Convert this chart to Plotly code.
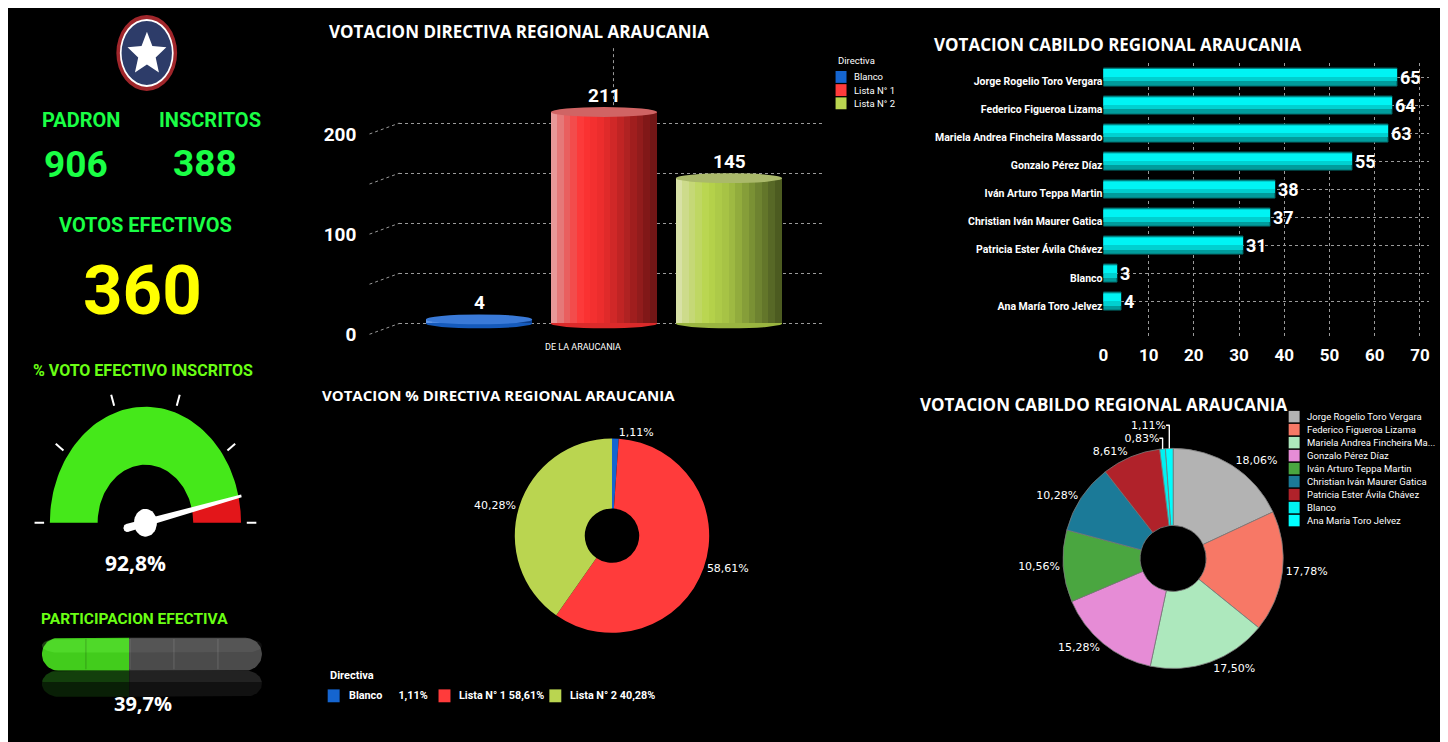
import numpy as np
import plotly.graph_objects as go

# page offset of the figure inside the html body (default body margin)
OFF = 8
W, H = 1440, 734

# ---------------- data ----------------
padron = 906
inscritos = 388
votos_efectivos = 360
voto_efectivo_inscritos_pct = 92.8
participacion_efectiva_pct = 39.7
gauge_ticks = [0, 20, 40, 60, 80, 100]
progress_dividers = [20, 40, 60, 80]

directiva_labels = ["Blanco", "Lista N° 1", "Lista N° 2"]
directiva_values = [4, 211, 145]
directiva_category = ["DE LA ARAUCANIA"]
directiva_yticks = [0, 100, 200]
directiva_minor = [50, 150]

cabildo_names = [
    "Jorge Rogelio Toro Vergara",
    "Federico Figueroa Lizama",
    "Mariela Andrea Fincheira Massardo",
    "Gonzalo Pérez Díaz",
    "Iván Arturo Teppa Martin",
    "Christian Iván Maurer Gatica",
    "Patricia Ester Ávila Chávez",
    "Blanco",
    "Ana María Toro Jelvez",
]
cabildo_values = [65, 64, 63, 55, 38, 37, 31, 3, 4]
cabildo_legend = [
    "Jorge Rogelio Toro Vergara",
    "Federico Figueroa Lizama",
    "Mariela Andrea Fincheira Ma...",
    "Gonzalo Pérez Díaz",
    "Iván Arturo Teppa Martin",
    "Christian Iván Maurer Gatica",
    "Patricia Ester Ávila Chávez",
    "Blanco",
    "Ana María Toro Jelvez",
]
cabildo_xticks = [0, 10, 20, 30, 40, 50, 60, 70]

# ---------------- styles ----------------
NARROW = "Roboto, Liberation Sans, sans-serif"
TITLEF = "Open Sans, sans-serif"
WIDEF = "Open Sans, sans-serif"
PIEF = "DejaVu Sans, sans-serif"
GREEN_TXT = "#1aff45"
LIME_TXT = "#6aff14"
YELLOW = "#ffff00"
GAUGE_GREEN = "#45e81a"
GAUGE_RED = "#e3161a"
PROG_GREEN = "#42cc1c"
PROG_GREY = "#4b4b4b"
GRID = "#9a9a9a"
DIR_COLORS = ["#1565d0", "#ff3b3b", "#bad550"]
DIR_STOPS = [
    [(0, "#6a9ae6"), (0.3, "#1a6ad8"), (1, "#0c3c86")],
    [(0, "#eaa8a8"), (0.12, "#e46a6a"), (0.3, "#ff3434"), (0.5, "#e82c2c"), (0.75, "#a82020"), (1, "#6a1414")],
    [(0, "#dde4b4"), (0.12, "#c8d880"), (0.3, "#b8d64c"), (0.5, "#a4c044"), (0.75, "#748a32"), (1, "#46541e")],
]
DIR_TOPS = ["#3a7ad8", "#d06464", "#aab96a"]
CAB_COLORS = ["#b3b3b3", "#f77866", "#ade8bd", "#e68cd6", "#4aa640", "#1b7a98", "#b0222a", "#00f2f2", "#00ffff"]


def fx(px):
    return (px - OFF) / W


def fy(py):
    return 1 - (py - OFF) / H


def hex2rgb(h):
    h = h.lstrip("#")
    return tuple(int(h[i:i + 2], 16) for i in (0, 2, 4))


def interp(stops, t):
    for (t0, c0), (t1, c1) in zip(stops[:-1], stops[1:]):
        if t <= t1:
            f = (t - t0) / (t1 - t0) if t1 > t0 else 0
            a, b = hex2rgb(c0), hex2rgb(c1)
            return "rgb(%d,%d,%d)" % tuple(round(a[j] + (b[j] - a[j]) * f) for j in range(3))
    return stops[-1][1]


def comma(v, nd):
    return f"{v:.{nd}f}".replace(".", ",")


fig = go.Figure()
shapes = []
annotations = []


def ann(text, px, py, size, color="white", family=NARROW, bold=True, xanchor="center", yanchor="middle"):
    annotations.append(dict(
        text=f"<b>{text}</b>" if bold else text, x=fx(px), y=fy(py), xref="paper", yref="paper",
        showarrow=False, xanchor=xanchor, yanchor=yanchor,
        font=dict(size=size, color=color, family=family)))


def add_poly(xs, ys, color, xa, ya):
    fig.add_trace(go.Scatter(x=xs, y=ys, mode="lines", fill="toself", fillcolor=color,
                             line=dict(width=0, color=color), xaxis=xa, yaxis=ya,
                             hoverinfo="skip", showlegend=False))


# ---------------- logo ----------------
for rx, ry, col in [(30.5, 38.3, "#a0262b"), (27.0, 34.3, "#ffffff"), (25.3, 32.3, "#2d3c69")]:
    shapes.append(dict(type="circle", xref="paper", yref="paper", x0=fx(142.3 - rx), x1=fx(142.3 + rx),
                       y0=fy(53.3 + ry), y1=fy(53.3 - ry), fillcolor=col, line=dict(width=0)))
pts = []
for k in range(10):
    ang = np.pi / 2 + k * np.pi / 5
    r = 1 if k % 2 == 0 else 0.45
    pts.append((fx(142.5 + 20.5 * r * np.cos(ang)), fy(54.7 - 22.7 * r * np.sin(ang))))
shapes.append(dict(type="path", xref="paper", yref="paper",
                   path="M " + " L ".join(f"{x:.5f},{y:.5f}" for x, y in pts) + " Z",
                   fillcolor="white", line=dict(width=0)))

# ---------------- left KPI texts ----------------
ann("PADRON", 76, 121, 20, GREEN_TXT)
ann("INSCRITOS", 206, 121, 20, GREEN_TXT)
ann(str(padron), 71, 166, 37, GREEN_TXT)
ann(str(inscritos), 201, 165, 37, GREEN_TXT)
ann("VOTOS EFECTIVOS", 141, 227, 20, GREEN_TXT)
ann(str(votos_efectivos), 138, 293, 69, YELLOW)
ann("% VOTO EFECTIVO INSCRITOS", 139, 373, 16, LIME_TXT)
ann(comma(voto_efectivo_inscritos_pct, 1) + "%", 131, 568, 21, "white", WIDEF)
ann("PARTICIPACION EFECTIVA", 130, 624, 15.5, LIME_TXT)
ann(comma(participacion_efectiva_pct, 1) + "%", 139, 709, 20, "white", WIDEF)

# ---------------- gauge (x4/y4) ----------------
def arc_poly(v0, v1, r_in, r_out, n=80):
    t = np.linspace(np.pi * (1 - v0 / 100), np.pi * (1 - v1 / 100), n)
    xs = list(r_out * np.cos(t)) + list(r_in * np.cos(t[::-1]))
    ys = list(r_out * np.sin(t)) + list(r_in * np.sin(t[::-1]))
    return xs + [xs[0]], ys + [ys[0]]


gv = voto_efectivo_inscritos_pct
xs, ys = arc_poly(0, gv, 0.5, 1.0)
add_poly(xs, ys, GAUGE_GREEN, "x4", "y4")
xs, ys = arc_poly(gv, 100, 0.5, 1.0)
add_poly(xs, ys, GAUGE_RED, "x4", "y4")
tx, ty = [], []
for v in gauge_ticks:
    th = np.pi * (1 - v / 100)
    tx += [1.06 * np.cos(th), 1.16 * np.cos(th), None]
    ty += [1.06 * np.sin(th), 1.16 * np.sin(th), None]
fig.add_trace(go.Scatter(x=tx, y=ty, mode="lines", line=dict(color="white", width=2),
                         xaxis="x4", yaxis="y4", hoverinfo="skip", showlegend=False))
th = np.pi * (1 - gv / 100)
d = np.array([np.cos(th), np.sin(th)])
nrm = np.array([-np.sin(th), np.cos(th)])
p = [-0.2 * d + 0.035 * nrm, 1.03 * d + 0.012 * nrm, 1.03 * d - 0.012 * nrm, -0.2 * d - 0.035 * nrm]
add_poly([q[0] for q in p] + [p[0][0]], [q[1] for q in p] + [p[0][1]], "white", "x4", "y4")
tt = np.linspace(0, 2 * np.pi, 40)
add_poly(list(-0.2 * d[0] + 0.035 * np.cos(tt)), list(-0.2 * d[1] + 0.035 * np.sin(tt)), "white", "x4", "y4")
add_poly(list(0.12 * np.cos(tt)), list(0.12 * np.sin(tt)), "white", "x4", "y4")

# ---------------- progress bar (x5/y5) ----------------
Rx = 16.5 / 2.21
pv = participacion_efectiva_pct


def left_round(x0, x1, y0, y1):
    cx = x0 + Rx
    t = np.linspace(np.pi / 2, 3 * np.pi / 2, 30)
    cy, ry = (y0 + y1) / 2, (y1 - y0) / 2
    xs = [x1] + list(cx + Rx * np.cos(t)) + [x1, x1]
    ys = [y1] + list(cy + ry * np.sin(t)) + [y0, y1]
    return xs, ys


def right_round(x0, x1, y0, y1):
    cx = x1 - Rx
    t = np.linspace(-np.pi / 2, np.pi / 2, 30)
    cy, ry = (y0 + y1) / 2, (y1 - y0) / 2
    xs = [x0] + list(cx + Rx * np.cos(t)) + [x0, x0]
    ys = [y0] + list(cy + ry * np.sin(t)) + [y1, y0]
    return xs, ys


# reflection
xs, ys = left_round(0, pv, -0.8, 0)
add_poly(xs, ys, "#133f0c", "x5", "y5")
xs, ys = right_round(pv, 100, -0.8, 0)
add_poly(xs, ys, "#222222", "x5", "y5")
add_poly([-2, 102, 102, -2, -2], [-0.35, -0.35, -0.9, -0.9, -0.35], "rgba(0,0,0,0.5)", "x5", "y5")
# bar
xs, ys = left_round(0, pv, 0, 1)
add_poly(xs, ys, PROG_GREEN, "x5", "y5")
xs, ys = right_round(pv, 100, 0, 1)
add_poly(xs, ys, PROG_GREY, "x5", "y5")
xs, ys = left_round(0, pv, 0.55, 0.97)
add_poly(xs, ys, "rgba(120,255,80,0.25)", "x5", "y5")
xs, ys = right_round(pv, 100, 0.55, 0.97)
add_poly(xs, ys, "rgba(255,255,255,0.06)", "x5", "y5")
for v in progress_dividers:
    col = "rgba(0,0,0,0.18)" if v < pv else "rgba(255,255,255,0.12)"
    fig.add_trace(go.Scatter(x=[v, v], y=[0.04, 0.96], mode="lines", line=dict(color=col, width=1.2),
                             xaxis="x5", yaxis="y5", hoverinfo="skip", showlegend=False))

# ---------------- top middle: directiva cylinders (x/y) ----------------
def dpy(v):  # reference pixel y for a value
    return 326 - 1.01 * v


BW = 0.85
NSTRIP = 16
xpos = list(range(len(directiva_values)))
ey = 5 / 1.01
for i, v in enumerate(directiva_values):
    shapes.append(dict(type="circle", xref="x", yref="y", x0=i - BW / 2, x1=i + BW / 2, y0=-ey, y1=ey,
                       fillcolor=interp(DIR_STOPS[i], 0.55), line=dict(width=0), layer="between"))
for k in range(NSTRIP):
    t = (k + 0.5) / NSTRIP
    fig.add_trace(go.Bar(
        x=xpos, y=directiva_values, width=BW / NSTRIP * 1.05, offset=-BW / 2 + k * BW / NSTRIP,
        marker=dict(color=[interp(DIR_STOPS[i], t) for i in xpos], line=dict(width=0)),
        xaxis="x", yaxis="y", hoverinfo="skip", showlegend=False))
for i, v in enumerate(directiva_values):
    shapes.append(dict(type="circle", xref="x", yref="y", x0=i - BW / 2, x1=i + BW / 2, y0=v - ey, y1=v + ey,
                       fillcolor=DIR_TOPS[i], line=dict(width=0)))
    annotations.append(dict(text=f"<b>{v}</b>", x=i, y=v, xref="x", yref="y", yshift=17, showarrow=False,
                            font=dict(size=19, color="white", family=NARROW)))
# 3D wall connectors
for v in directiva_yticks + directiva_minor:
    shapes.append(dict(type="line", xref="paper", yref="paper", x0=fx(366), x1=fx(396),
                       y0=fy(dpy(v) + 11), y1=fy(dpy(v)), line=dict(color=GRID, width=1, dash="dot"),
                       layer="below"))
shapes.append(dict(type="line", xref="paper", yref="paper", x0=fx(611), x1=fx(611), y0=fy(112), y1=fy(48),
                   line=dict(color=GRID, width=1, dash="dot"), layer="below"))
ann("VOTACION DIRECTIVA REGIONAL ARAUCANIA", 516, 32, 17, "white", TITLEF)
# legend (top)
ann("Directiva", 834, 61, 9.5, "white", NARROW, bold=False, xanchor="left")
for i, lab in enumerate(directiva_labels):
    yc = 77.5 + 13.3 * i
    shapes.append(dict(type="rect", xref="paper", yref="paper", x0=fx(834), x1=fx(845), y0=fy(yc + 6),
                       y1=fy(yc - 6), fillcolor=DIR_COLORS[i], line=dict(width=0)))
    ann(lab, 851, yc, 9.5, "white", NARROW, bold=False, xanchor="left")

# ---------------- middle: directiva donut ----------------
tot = sum(directiva_values)
pcx, pcy, pr = 609.5, 540, 98
fig.add_trace(go.Pie(
    labels=directiva_labels, values=directiva_values, hole=0.28, sort=False, direction="clockwise",
    rotation=0, marker=dict(colors=DIR_COLORS, line=dict(width=0)), textposition="outside",
    texttemplate="%{percent:.2%}", textfont=dict(color="white", size=11, family=PIEF),
    domain=dict(x=[fx(pcx - pr), fx(pcx + pr)], y=[fy(pcy + pr), fy(pcy - pr)]),
    showlegend=False, hoverinfo="label+value+percent"))
ann("VOTACION % DIRECTIVA REGIONAL ARAUCANIA", 495.5, 398, 15, "white", TITLEF)
ann("Directiva", 324, 681, 11, "white", NARROW, xanchor="left")
for i, lab in enumerate(directiva_labels):
    x0 = 324 + 111.3 * i
    shapes.append(dict(type="rect", xref="paper", yref="paper", x0=fx(x0), x1=fx(x0 + 12), y0=fy(708),
                       y1=fy(695), fillcolor=DIR_COLORS[i], line=dict(width=0)))
    pct = comma(directiva_values[i] / tot * 100, 2) + "%"
    gap = "\u00a0" * (6 if len(lab) < 8 else 1)
    ann(lab + gap + pct, x0 + 19, 701.5, 10.8, "white", NARROW, xanchor="left")

# ---------------- top right: cabildo bars (x3/y3) ----------------
layers = [(0.64, -0.32, "#009c9c", True), (0.44, -0.32, "#00d0d0", False), (0.26, -0.30, "#00f4f4", False)]
for wdt, off, col, txt in layers:
    fig.add_trace(go.Bar(
        y=cabildo_names, x=cabildo_values, orientation="h", width=wdt, offset=off,
        marker=dict(color=col, line=dict(width=1 if txt else 0, color="#006e6e")),
        text=cabildo_values if txt else None, textposition="outside" if txt else "none",
        texttemplate="<b>%{x}</b>" if txt else None, constraintext="none", cliponaxis=False,
        textfont=dict(size=18, color="white", family=NARROW),
        xaxis="x3", yaxis="y3", hoverinfo="skip", showlegend=False))
ann("VOTACION CABILDO REGIONAL ARAUCANIA", 1117.5, 45, 17, "white", TITLEF)

# ---------------- bottom right: cabildo donut ----------------
qcx, qcy, qr = 1173, 563, 111
fig.add_trace(go.Pie(
    labels=cabildo_names, values=cabildo_values, hole=0.3, sort=False, direction="clockwise",
    rotation=0, marker=dict(colors=CAB_COLORS, line=dict(width=0.8, color="#7a7a7a")),
    textposition="outside", texttemplate="%{percent:.2%}",
    textfont=dict(color="white", size=11, family=PIEF),
    domain=dict(x=[fx(qcx - qr), fx(qcx + qr)], y=[fy(qcy + qr), fy(qcy - qr)]),
    showlegend=False, hoverinfo="label+value+percent"))
ann("VOTACION CABILDO REGIONAL ARAUCANIA", 1103, 408, 17, "white", TITLEF)
for i, lab in enumerate(cabildo_legend):
    yc = 420 + 13.1 * i
    shapes.append(dict(type="rect", xref="paper", yref="paper", x0=fx(1289), x1=fx(1300), y0=fy(yc + 5.8),
                       y1=fy(yc - 5.8), fillcolor=CAB_COLORS[i], line=dict(width=0)))
    ann(lab, 1305, yc, 9.5, "white", NARROW, bold=False, xanchor="left")

# ---------------- layout ----------------
bold_narrow = lambda s: dict(size=s, color="white", family=NARROW, weight="bold")
fig.update_layout(
    width=W, height=H, margin=dict(l=0, r=0, t=0, b=0),
    paper_bgcolor="black", plot_bgcolor="rgba(0,0,0,0)",
    barmode="overlay", bargap=0, separators=",.", showlegend=False,
    shapes=shapes, annotations=annotations,
    xaxis=dict(domain=[fx(396), fx(822)], range=[(396 - 476) / 125.5, (822 - 476) / 125.5], anchor="y",
               showgrid=False, zeroline=False, showline=False, ticks="",
               tickvals=[1], ticktext=directiva_category, ticklabelshift=-21,
               tickfont=dict(size=9, color="white", family=NARROW), fixedrange=True),
    yaxis=dict(domain=[fy(343), fy(88)], range=[(326 - 343) / 1.01, (326 - 88) / 1.01], anchor="x",
               tickvals=directiva_yticks, tickfont=bold_narrow(19), showgrid=True, gridcolor=GRID,
               griddash="dot", gridwidth=1, zeroline=False, showline=False, ticks="",
               minor=dict(tickvals=directiva_minor, showgrid=True, gridcolor=GRID, griddash="dot", gridwidth=1),
               ticklabelshift=11, ticklabelstandoff=42, fixedrange=True),
    xaxis3=dict(domain=[fx(1103), fx(1430)], range=[0, (1430 - 1103) / 4.54], anchor="y3",
                tickvals=cabildo_xticks, tickfont=bold_narrow(17), showgrid=True, gridcolor=GRID,
                griddash="dot", zeroline=False, showline=False, ticks="", ticklabelstandoff=6,
                fixedrange=True),
    yaxis3=dict(domain=[fy(340), fy(63)], type="category", categoryorder="array", categoryarray=cabildo_names,
                range=[9.26, -0.53], anchor="x3", tickfont=bold_narrow(10.5), showgrid=True, gridcolor=GRID,
                griddash="dot", zeroline=False, showline=False, ticks="", ticklabelshift=-4,
                fixedrange=True),
    xaxis4=dict(domain=[fx(25), fx(257)], range=[(25 - 141) / 96, (257 - 141) / 96], anchor="y4",
                visible=False, fixedrange=True),
    yaxis4=dict(domain=[fy(545), fy(395)], range=[(527 - 545) / 117, (527 - 395) / 117], anchor="x4",
                visible=False, fixedrange=True),
    xaxis5=dict(domain=[fx(37), fx(258)], range=[0, 100], anchor="y5", visible=False, fixedrange=True),
    yaxis5=dict(domain=[fy(708), fy(636)], range=[(676 - 708) / 33, (676 - 636) / 33], anchor="x5",
                visible=False, fixedrange=True),
)

fig.write_html("out.html")
